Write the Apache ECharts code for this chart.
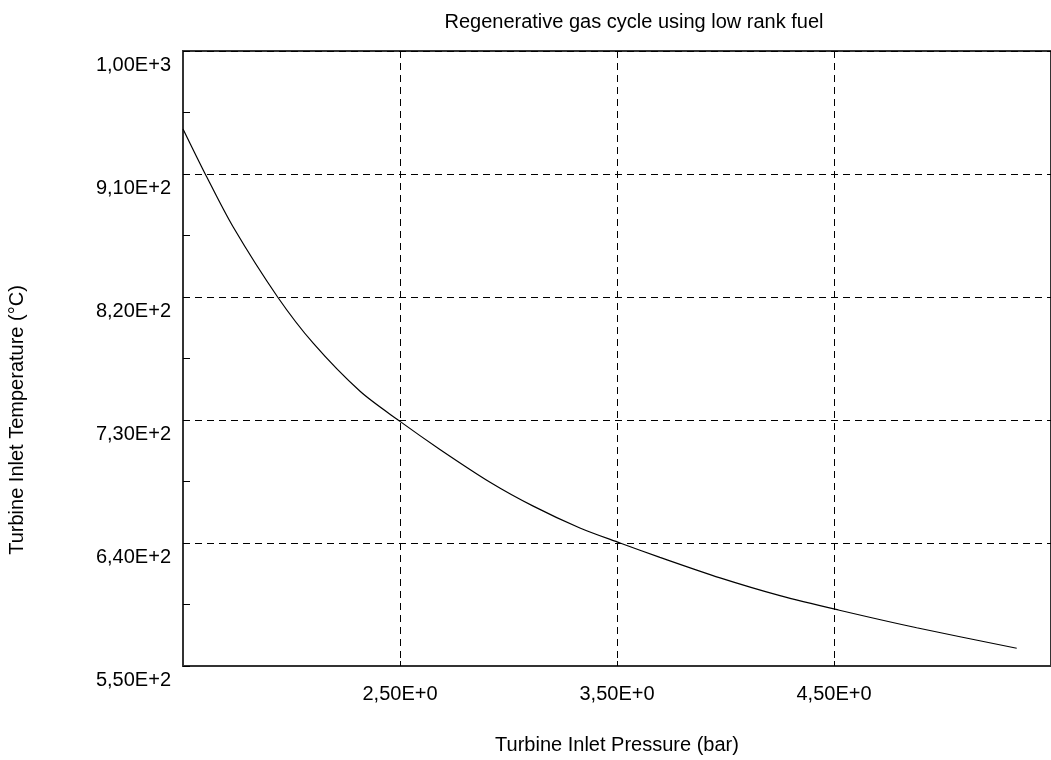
<!DOCTYPE html>
<html>
<head>
<meta charset="utf-8">
<script src="https://cdn.jsdelivr.net/npm/echarts@6/dist/echarts.min.js"></script>
<style>
html,body{margin:0;padding:0;background:#fff;}
#chart{width:1051px;height:760px;}
</style>
</head>
<body>
<div id="chart"></div>
<script>
// Data
const pressure    = [1.5, 1.609, 1.732, 1.936, 2.101, 2.316, 2.5, 2.684, 2.915, 3.114, 3.329, 3.514, 3.698, 3.975, 4.251, 4.52, 4.881, 5.342];
const temperature = [943, 908, 871, 820, 786, 751, 729, 708.5, 684.5, 667, 651, 640, 629.5, 614.5, 601.5, 591, 578, 563];

const xTicks = [2.5, 3.5, 4.5];
const xTickLabels = ['2,50E+0', '3,50E+0', '4,50E+0'];
const yTicks = [550, 640, 730, 820, 910, 1000];
const yTickLabels = ['5,50E+2', '6,40E+2', '7,30E+2', '8,20E+2', '9,10E+2', '1,00E+3'];
const yMinorTicks = [595, 685, 775, 865, 955];

const titleText = 'Regenerative gas cycle using low rank fuel';
const xName = 'Turbine Inlet Pressure (bar)';
const yName = 'Turbine Inlet Temperature (°C)';

const FONT = 'Liberation Sans, Arial, sans-serif';

function lookup(ticks, labels, v) {
  for (let i = 0; i < ticks.length; i++) {
    if (Math.abs(ticks[i] - v) < 1e-6) return labels[i];
  }
  return '';
}

const chart = echarts.init(document.getElementById('chart'), null, {renderer: 'canvas'});
const option = {
  backgroundColor: '#fff',
  animation: false,
  grid: {
    left: 183, top: 51, width: 870, height: 615,
    show: true, borderColor: '#333', borderWidth: 2, containLabel: false
  },
  graphic: [
    {
      type: 'text', x: 634, y: 22,
      style: {text: titleText, textAlign: 'center', textVerticalAlign: 'middle',
              font: '20px ' + FONT, fill: '#000'}
    },
    {
      type: 'text', x: 17, y: 420, rotation: Math.PI / 2,
      style: {text: yName, textAlign: 'center', textVerticalAlign: 'middle',
              font: '20px ' + FONT, fill: '#000'}
    }
  ],
  xAxis: {
    type: 'value', min: 1.5, max: 5.5,
    name: xName, nameLocation: 'middle', nameGap: 69,
    nameTextStyle: {fontFamily: FONT, fontSize: 20, color: '#000', verticalAlign: 'top', lineHeight: 20},
    axisLine: {show: true, lineStyle: {color: '#333', width: 2}},
    axisTick: {show: true, inside: true, length: 5, customValues: xTicks, lineStyle: {color: '#000', width: 1}},
    axisLabel: {
      customValues: xTicks, margin: 18, fontFamily: FONT, fontSize: 20, color: '#000',
      verticalAlign: 'top', lineHeight: 20,
      formatter: v => lookup(xTicks, xTickLabels, v)
    },
    splitLine: {show: true, lineStyle: {color: '#000', width: 1, type: [7, 5]}}
  },
  yAxis: [
    {
      type: 'value', min: 550, max: 1000, position: 'left',
      axisLine: {show: true, lineStyle: {color: '#333', width: 2}},
      axisTick: {show: true, inside: true, length: 7, customValues: yTicks, lineStyle: {color: '#000', width: 1}},
      axisLabel: {
        customValues: yTicks, margin: 12, fontFamily: FONT, fontSize: 20, color: '#000',
        verticalAlign: 'top', lineHeight: 20, padding: [4, 0, 0, 0],
        formatter: v => lookup(yTicks, yTickLabels, v)
      },
      splitLine: {show: true, lineStyle: {color: '#000', width: 1, type: [7, 5]}}
    },
    {
      type: 'value', min: 550, max: 1000, position: 'left',
      axisLine: {show: false},
      axisTick: {show: true, inside: true, length: 7, customValues: yMinorTicks, lineStyle: {color: '#000', width: 1}},
      axisLabel: {show: false, customValues: yMinorTicks},
      splitLine: {show: false}
    }
  ],
  series: [
    {
      type: 'line',
      data: pressure.map((p, i) => [p, temperature[i]]),
      yAxisIndex: 0,
      smooth: 0.3,
      showSymbol: false,
      symbol: 'none',
      lineStyle: {color: '#000', width: 1.2},
      clip: true
    }
  ]
};
chart.setOption(option);
</script>
</body>
</html>
